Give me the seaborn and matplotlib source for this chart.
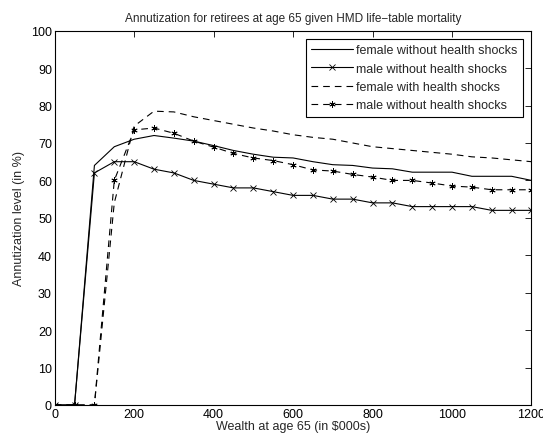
import numpy as np
import pandas as pd
import matplotlib
matplotlib.use("Agg")
import matplotlib.pyplot as plt
import seaborn as sns

wealth = list(range(0, 1201, 50))
female_no_shock = [0, 0, 64, 69, 71, 72, 71.3, 70.5, 69.3, 68, 67, 66.2, 66, 65, 64.2, 64,
                   63.3, 63.1, 62.2, 62.2, 62.2, 61.1, 61.1, 61.1, 60]
male_no_shock = [0, 0, 62, 65, 65, 63, 62, 60, 59, 58, 58, 57, 56, 56, 55, 55,
                 54, 54, 53, 53, 53, 53, 52, 52, 52]
female_shock = [0, 0, 0, 54, 74.5, 78.5, 78.3, 77, 76, 75, 74, 73.2, 72.2, 71.5, 71, 70,
                69, 68.5, 68, 67.5, 67, 66.3, 66, 65.5, 65]
male_shock = [0, 0, 0, 60, 73.5, 74, 72.6, 70.5, 68.9, 67.2, 66, 65.3, 64.2, 62.8, 62.5, 61.6,
              60.9, 60, 60, 59.3, 58.5, 58.2, 57.5, 57.5, 57.5]

labels = ["female without health shocks", "male without health shocks",
          "female with health shocks", "male without health shocks"]
title = "Annutization for retirees at age 65 given HMD life\u2212table mortality"
xlabel = "Wealth at age 65 (in $000s)"
ylabel = "Annutization level (in %)"
xticks = [0, 200, 400, 600, 800, 1000, 1200]
yticks = list(range(0, 101, 10))

sns.set_style("white")
plt.rcParams["font.family"] = ["Liberation Sans", "DejaVu Sans"]

fig = plt.figure(figsize=(5.43, 4.39), dpi=100)
ax = fig.add_axes([0.1007, 0.0752, 0.8781, 0.8526])

dash = (0, (6, 4.5))
styles = [
    ("-", "None", 6),
    ("-", "x", 4),
    (dash, "None", 6),
    (dash, (6, 2, 0), 4.5),
]
all_vals = [female_no_shock, male_no_shock, female_shock, male_shock]

handles = []
for vals, (ls, mk, ms), lab in zip(all_vals, styles, labels):
    df = pd.DataFrame({"w": wealth, "v": vals})
    sns.lineplot(data=df, x="w", y="v", ax=ax, color="black", linewidth=0.8,
                 legend=False)
    ln = ax.lines[-1]
    ln.set_linestyle(ls)
    ln.set_marker(mk)
    ln.set_markersize(ms)
    ln.set_markeredgewidth(0.6)
    ln.set_markeredgecolor("black")
    ln.set_label(lab)
    handles.append(ln)

ax.set_xlim(0, 1200)
ax.set_ylim(0, 100)
ax.set_xticks(xticks)
ax.set_yticks(yticks)
ax.tick_params(direction="in", length=4, width=0.6, top=True, right=True,
               labelsize=9, pad=2, colors="black")
for s in ax.spines.values():
    s.set_visible(True)
    s.set_color("black")
    s.set_linewidth(0.8)
ax.set_title(title, fontsize=8.5, pad=7)
ax.set_xlabel(xlabel, fontsize=9, labelpad=0)
ax.set_ylabel(ylabel, fontsize=9, labelpad=4)

leg = ax.legend(handles=handles, labels=labels, loc="upper right", fontsize=9,
                frameon=True, fancybox=False, edgecolor="black", framealpha=1,
                handlelength=3.3, handletextpad=0.3, borderpad=0.45,
                labelspacing=0.5, borderaxespad=0.65)
leg.get_frame().set_linewidth(0.8)

fig.savefig("out.png", dpi=100)
